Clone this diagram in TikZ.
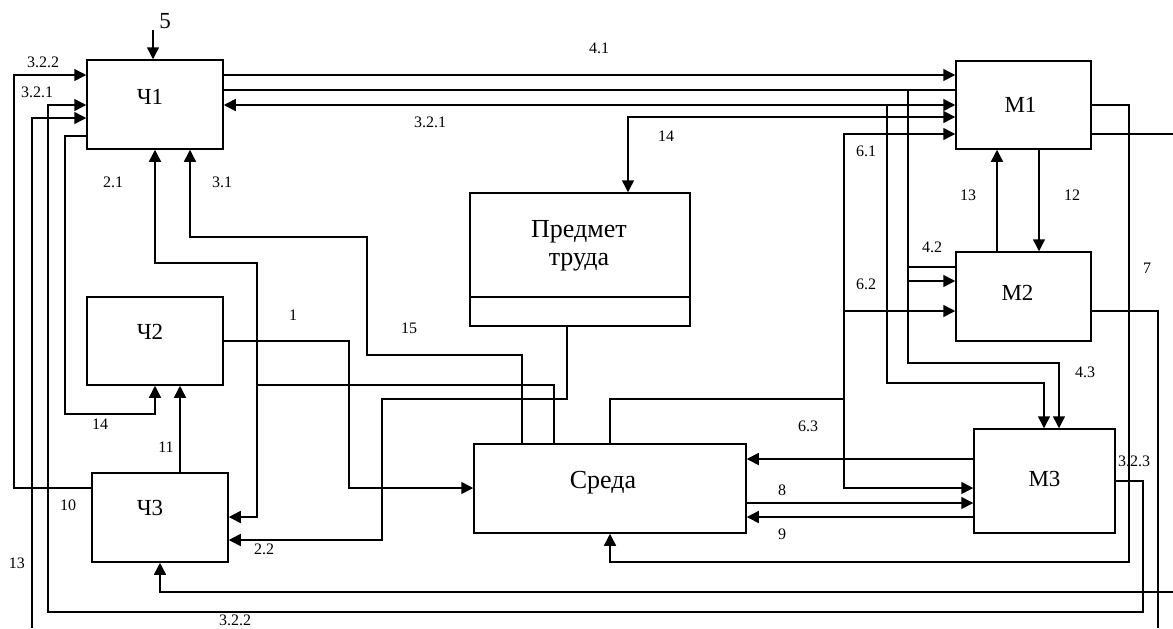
\documentclass[tikz,border=0pt]{standalone}
\usepackage{fontspec}
\setmainfont{Liberation Serif}
\usetikzlibrary{arrows.meta}
\usetikzlibrary{positioning}

\begin{document}
\begin{tikzpicture}[
  x=0.5pt, y=-0.5pt,
  line width=0.75pt,
  blk/.style={draw, rectangle, inner sep=0pt},
  arr/.style={-{Triangle[length=6pt,width=6pt]}},
  arrb/.style={{Triangle[length=6pt,width=6pt]}-{Triangle[length=6pt,width=6pt]}},
  num/.style={font=\fontsize{8}{9}\selectfont, inner sep=0pt},
  nm/.style={font=\fontsize{11.5}{13}\selectfont},
  big/.style={font=\fontsize{13}{14}\selectfont, align=center}]
\useasboundingbox (0,0) rectangle (1173,628);

% blocks
\node[blk, minimum width=68pt, minimum height=44.5pt,
  label={[nm,xshift=-2.5pt,yshift=3.75pt]center:Ч1}] (ch1) at (155,104.5) {};
\node[blk, minimum width=68pt, minimum height=44pt,
  label={[nm,xshift=-2.5pt,yshift=4.5pt]center:Ч2}] (ch2) at (155,341) {};
\node[blk, minimum width=68pt, minimum height=44.5pt,
  label={[nm,xshift=-5pt,yshift=4.75pt]center:Ч3}] (ch3) at (160,517.5) {};
\node[blk, minimum width=110pt, minimum height=66.5pt,
  label={[big,xshift=-0.5pt,yshift=6.75pt]center:Предмет\\труда}] (pt) at (580,259.5) {};
\node[blk, minimum width=136pt, minimum height=44.5pt,
  label={[big,xshift=-3.5pt,yshift=3pt]center:Среда}] (sreda) at (610,488.5) {};
\node[blk, minimum width=67.5pt, minimum height=44pt,
  label={[nm,xshift=-1.5pt]center:М1}] (m1) at (1023.5,105) {};
\node[blk, minimum width=67.5pt, minimum height=44.5pt,
  label={[nm,xshift=-3pt,yshift=1.75pt]center:М2}] (m2) at (1023.5,296.5) {};
\node[blk, minimum width=70.5pt, minimum height=52pt,
  label={[nm,yshift=1pt]center:М3}] (m3) at (1044.5,481) {};
\draw (pt.west |- 0,297) -- (pt.east |- 0,297);

% free ends
\coordinate (in5) at (153,30);
\coordinate (e1) at (1173,134);
\coordinate (e2) at (1173,592);
\coordinate (e3) at (1158,628);
\coordinate (e4) at (32,628);

% inputs of Ch1
\draw[arr] (in5) -- (in5 |- ch1.north);
\draw[arr] (ch3.west |- 0,488) -| (14,75) -- (ch1.west |- 0,75);
\draw[arr] (m3.east |- 0,481) -| (1143,612) -| (48,105) -- (ch1.west |- 0,105);
\draw (m2.east |- 0,311) -| (e3);
\draw[arr] (e4) |- (ch1.west |- 0,118);
\draw[arr] (ch1.west |- 0,136) -| (65,414) -| (ch2.south);

% 2.1, 3.1
\coordinate (j21) at (257,385);
\draw (sreda.north -| 554,0) |- (j21);
\draw[arr] (j21) |- (155,263) -- (ch1.south -| 155,0);
\draw[arr] (j21) |- (ch3.east |- 0,517);
\draw[arr] (sreda.north -| 522,0) |- (367,355) |- (190,237) -- (ch1.south -| 190,0);

% Ch2, Ch3
\draw[arr] (ch2.east |- 0,341) -| (349,488) -- (sreda.west |- 0,488);
\draw[arr] (ch3.north -| 180,0) -- (ch2.south -| 180,0);
\draw[arr] (pt.south -| 567,0) |- (382,399) |- (ch3.east |- 0,540);
\draw[arr] (e2) -| (ch3.south);

% Ch1 -> M
\draw[arr] (ch1.east |- 0,75) -- (m1.west |- 0,75);
\draw (ch1.east |- 0,90) -- (m1.west |- 0,90);
\draw[arr] (908,90) |- (1059,363) -- (m3.north -| 1059,0);
\draw (908,267) -- (m2.west |- 0,267);
\draw[arr] (908,281) -- (m2.west |- 0,281);
\draw[arrb] (ch1.east |- 0,105) -- (m1.west |- 0,105);
\draw[arr] (887,105) |- (1044,383) -- (m3.north -| 1044,0);
\draw[arrb] (pt.north -| 628,0) |- (m1.west |- 0,117);

% 6.x
\coordinate (j6) at (844,399);
\draw (sreda.north -| 610,0) |- (j6);
\draw[arr] (j6) |- (m1.west |- 0,134);
\draw[arr] (844,311) -- (m2.west |- 0,311);
\draw[arr] (j6) |- (m3.west |- 0,488);

% M1, M2, M3
\draw[arr] (m2.north -| 997,0) -- (m1.south -| 997,0);
\draw[arr] (m1.south -| 1039,0) -- (m2.north -| 1039,0);
\draw[arr] (m1.east |- 0,105) -| (1129,562) -| (sreda.south -| 610,0);
\draw (m1.east |- 0,134) -- (e1);
\draw[arr] (m3.west |- 0,459) -- (sreda.east |- 0,459);
\draw[arr] (sreda.east |- 0,503) -- (m3.west |- 0,503);
\draw[arr] (m3.west |- 0,517) -- (sreda.east |- 0,517);

% numbers
\node[font=\fontsize{11.5}{13}\selectfont, inner sep=0pt] at (165,21) {5};
\node[num] at (43,62) {3.2.2};
\node[num] at (37,92) {3.2.1};
\node[num] at (113,182) {2.1};
\node[num] at (222,182) {3.1};
\node[num] at (430,122) {3.2.1};
\node[num] at (599,48) {4.1};
\node[num] at (666,136) {14};
\node[num] at (409,328) {15};
\node[num] at (293,315) {1};
\node[num] at (100,424) {14};
\node[num] at (166,447) {11};
\node[num] at (68,505) {10};
\node[num] at (17,563) {13};
\node[num] at (264,549) {2.2};
\node[num] at (235,620) {3.2.2};
\node[num] at (866,151) {6.1};
\node[num] at (968,195) {13};
\node[num] at (1072,195) {12};
\node[num] at (932,247) {4.2};
\node[num] at (866,284) {6.2};
\node[num] at (1085,372) {4.3};
\node[num] at (1147,268) {7};
\node[num] at (808,426) {6.3};
\node[num] at (782,490) {8};
\node[num] at (782,534) {9};
\node[num] at (1134,461) {3.2.3};
\end{tikzpicture}
\end{document}
